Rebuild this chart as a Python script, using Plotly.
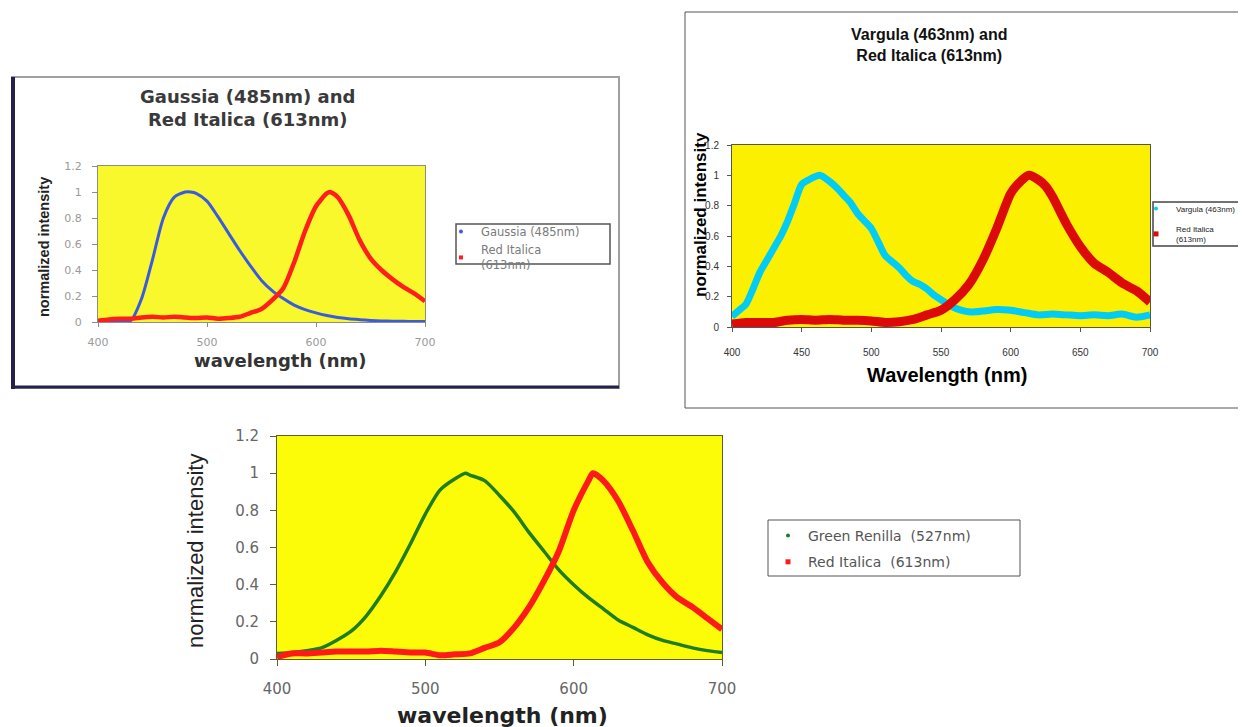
import plotly.graph_objects as go

# page offset of the figure inside the browser body (default 8px body margin)
OX, OY = 8, 8
W, H = 1246 - OX, 727 - OY

# ---------------- data ----------------
# Chart 1: Gaussia + Red Italica
gaussia_wl = [400, 410, 420, 430, 440, 450, 460, 470, 480, 485, 490, 500, 510, 520, 530, 540,
              550, 560, 570, 580, 590, 600, 610, 620, 630, 640, 650, 660, 670, 680, 690, 700]
gaussia_int = [0.0, 0.0, 0.005, 0.01, 0.18, 0.48, 0.80, 0.96, 1.0, 1.0, 0.99, 0.93, 0.81, 0.68, 0.55, 0.43,
               0.32, 0.24, 0.18, 0.13, 0.095, 0.07, 0.05, 0.035, 0.025, 0.018, 0.012, 0.008, 0.006, 0.005, 0.004, 0.003]

red1_wl = [400, 410, 420, 430, 440, 450, 460, 470, 480, 490, 500, 510, 520, 530, 540, 550,
           560, 570, 580, 590, 600, 610, 613, 620, 630, 640, 650, 660, 670, 680, 690, 700]
red1_int = [0.01, 0.02, 0.025, 0.025, 0.035, 0.04, 0.035, 0.04, 0.035, 0.03, 0.035, 0.025, 0.03, 0.04, 0.07, 0.10,
            0.17, 0.26, 0.46, 0.70, 0.89, 0.99, 1.0, 0.96, 0.82, 0.63, 0.49, 0.40, 0.33, 0.27, 0.22, 0.16]

# Chart 2: Vargula + Red Italica
vargula_wl = [400, 405, 410, 415, 420, 425, 430, 435, 440, 445, 450, 455, 463,
              470, 475, 480, 485, 490, 495, 500, 505, 510, 515, 520, 525, 530, 535, 540, 545, 550,
              555, 560, 565, 570, 575, 580, 590, 600, 610, 620, 630, 640, 650, 660, 670, 680, 690, 700]
vargula_int = [0.07, 0.11, 0.15, 0.25, 0.36, 0.44, 0.52, 0.60, 0.70, 0.82, 0.94, 0.97, 1.0,
               0.96, 0.92, 0.87, 0.82, 0.75, 0.70, 0.65, 0.56, 0.47, 0.43, 0.39, 0.34, 0.30, 0.28, 0.25, 0.21, 0.18,
               0.15, 0.125, 0.11, 0.10, 0.10, 0.105, 0.115, 0.11, 0.095, 0.08, 0.085, 0.08, 0.075, 0.08, 0.075, 0.085, 0.065, 0.08]

red2_wl = [400, 410, 420, 430, 440, 450, 460, 470, 480, 490, 500, 510, 520, 530, 540, 550, 560,
           570, 580, 590, 600, 605, 613, 620, 625, 630, 640, 650, 660, 670, 680, 690, 700]
red2_int = [0.02, 0.03, 0.03, 0.03, 0.045, 0.05, 0.045, 0.05, 0.045, 0.045, 0.04, 0.03, 0.035, 0.05, 0.08, 0.11, 0.18,
            0.28, 0.44, 0.65, 0.88, 0.94, 1.0, 0.97, 0.93, 0.86, 0.68, 0.53, 0.42, 0.36, 0.29, 0.24, 0.165]

# Chart 3: Green Renilla + Red Italica
renilla_wl = [400, 410, 420, 430, 440, 450, 460, 470, 480, 490, 500, 510, 520, 527, 530, 540,
              550, 560, 570, 580, 590, 600, 610, 620, 630, 640, 650, 660, 670, 680, 690, 700]
renilla_int = [0.03, 0.035, 0.045, 0.06, 0.10, 0.15, 0.23, 0.34, 0.47, 0.62, 0.78, 0.91, 0.97, 1.0, 0.99, 0.96,
               0.88, 0.79, 0.68, 0.58, 0.48, 0.40, 0.33, 0.27, 0.21, 0.17, 0.13, 0.10, 0.08, 0.06, 0.045, 0.035]

red3_wl = [400, 410, 420, 430, 440, 450, 460, 470, 480, 490, 500, 510, 520, 530, 540, 550,
           560, 570, 580, 590, 600, 610, 613, 620, 630, 640, 650, 660, 670, 680, 690, 700]
red3_int = [0.01, 0.03, 0.03, 0.035, 0.04, 0.04, 0.04, 0.045, 0.04, 0.035, 0.035, 0.02, 0.025, 0.03, 0.06, 0.09,
            0.17, 0.28, 0.42, 0.58, 0.80, 0.96, 1.0, 0.96, 0.85, 0.69, 0.52, 0.41, 0.33, 0.28, 0.22, 0.16]

x_ticks_100 = [400, 500, 600, 700]
x_ticks_50 = [400, 450, 500, 550, 600, 650, 700]
y_ticks = [0, 0.2, 0.4, 0.6, 0.8, 1.0, 1.2]

titles = ["Gaussia (485nm) and<br>Red Italica (613nm)",
          "Vargula (463nm) and<br>Red Italica (613nm)"]
names1 = ["Gaussia (485nm)", "Red Italica<br>(613nm)"]
names2 = ["Vargula (463nm)", "Red Italica<br>(613nm)"]
names3 = ["Green Renilla  (527nm)", "Red Italica  (613nm)"]

# ---------------- helpers ----------------
def px(x):
    return (x - OX) / W


def py(y):
    return 1 - (y - OY) / H


ARIAL = "Liberation Sans, Arial, sans-serif"
WIDE = "DejaVu Sans, Verdana, sans-serif"

fig = go.Figure()


def add_series(xs, ys, color, width, xa, ya):
    fig.add_trace(go.Scatter(x=xs, y=ys, mode="lines", xaxis=xa, yaxis=ya,
                             line=dict(color=color, width=width, shape="spline", smoothing=0.7),
                             showlegend=False, hoverinfo="skip"))


def add_legend_entry(name, color, symbol, size, legend, group, xa, ya):
    fig.add_trace(go.Scatter(x=[None], y=[None], mode="markers", xaxis=xa, yaxis=ya,
                             marker=dict(color=color, symbol=symbol, size=size),
                             name=name, legend=legend, legendgroup=group, showlegend=True))


# chart 1
add_series(gaussia_wl, gaussia_int, "#3A5BE0", 3, "x", "y")
add_series(red1_wl, red1_int, "#FF1E1E", 4.5, "x", "y")
add_legend_entry(names1[0], "#3A5BE0", "circle", 4, "legend", "a", "x", "y")
add_legend_entry(names1[1], "#FF1E1E", "square", 4, "legend", "b", "x", "y")

# chart 2
add_series(vargula_wl, vargula_int, "#00CCF5", 7, "x2", "y2")
add_series(red2_wl, red2_int, "#DD0A0A", 9, "x2", "y2")
add_legend_entry(names2[0], "#00CCF5", "circle", 4, "legend2", "c", "x2", "y2")
add_legend_entry(names2[1], "#DD0A0A", "square", 5, "legend2", "d", "x2", "y2")

# chart 3
add_series(renilla_wl, renilla_int, "#1E7D1E", 3.5, "x3", "y3")
add_series(red3_wl, red3_int, "#FF1A1A", 6, "x3", "y3")
add_legend_entry(names3[0], "#1E7D1E", "circle", 4, "legend3", "e", "x3", "y3")
add_legend_entry(names3[1], "#FF1A1A", "square", 5, "legend3", "f", "x3", "y3")


def xaxis(domain, tickvals, font, linecolor, ticklen, standoff, anchor):
    return dict(domain=domain, range=[400, 700], tickvals=tickvals, ticks="outside", ticklen=ticklen,
                tickcolor=linecolor, showline=True, linecolor=linecolor, mirror=True, showgrid=False,
                zeroline=False, tickfont=font, ticklabelstandoff=standoff, anchor=anchor, fixedrange=True,
                automargin=False)


def yaxis(domain, font, linecolor, ticklen, standoff, anchor):
    return dict(domain=domain, range=[0, 1.2], tickvals=y_ticks, ticks="outside", ticklen=ticklen,
                tickcolor=linecolor, showline=True, linecolor=linecolor, mirror=True, showgrid=False,
                zeroline=False, tickfont=font, ticklabelstandoff=standoff, anchor=anchor, fixedrange=True,
                automargin=False)


fig.update_layout(
    width=W, height=H, margin=dict(l=0, r=0, t=0, b=0, autoexpand=False),
    paper_bgcolor="white", plot_bgcolor="rgba(0,0,0,0)",
    xaxis=xaxis([px(98), px(425)], x_ticks_100, dict(family=WIDE, size=11, color="#9A9A9A"), "#8C8C8C", 4, 6, "y"),
    yaxis=yaxis([py(322), py(166)], dict(family=WIDE, size=11, color="#9A9A9A"), "#8C8C8C", 5, 8, "x"),
    xaxis2=xaxis([px(732), px(1150)], x_ticks_50, dict(family=ARIAL, size=10, color="#333333"), "#555555", 4, 12, "y2"),
    yaxis2=yaxis([py(327), py(145)], dict(family=ARIAL, size=10, color="#333333"), "#555555", 4, 6, "x2"),
    xaxis3=xaxis([px(277), px(722)], x_ticks_100, dict(family=WIDE, size=15, color="#666666"), "#5E5E30", 6, 10, "y3"),
    yaxis3=yaxis([py(659), py(436)], dict(family=WIDE, size=15, color="#666666"), "#5E5E30", 6, 8, "x3"),
    legend=dict(x=px(456), y=py(217), xanchor="left", yanchor="top", bgcolor="rgba(0,0,0,0)",
                font=dict(family=WIDE, size=11.5, color="#7A7A7A"), indentation=-15,
                traceorder="grouped", tracegroupgap=0, itemclick=False),
    legend2=dict(x=px(1151), y=py(194), xanchor="left", yanchor="top", bgcolor="rgba(0,0,0,0)",
                 font=dict(family=ARIAL, size=8, color="#222222"), indentation=-15,
                 traceorder="grouped", tracegroupgap=4, itemclick=False),
    legend3=dict(x=px(770), y=py(520), xanchor="left", yanchor="top", bgcolor="rgba(0,0,0,0)",
                 font=dict(family=WIDE, size=14, color="#555555"), indentation=-2,
                 traceorder="grouped", tracegroupgap=5, itemclick=False),
)

shapes = []
# yellow plot backgrounds
for xa, ya, col in [("x", "y", "#F8F82C"), ("x2", "y2", "#FBF000"), ("x3", "y3", "#FCFC08")]:
    shapes.append(dict(type="rect", xref=xa + " domain", yref=ya + " domain", x0=0, x1=1, y0=0, y1=1,
                       fillcolor=col, line=dict(width=0), layer="below"))
# chart 1 frame
shapes.append(dict(type="rect", xref="paper", yref="paper", x0=px(12), x1=px(619), y0=py(388), y1=py(77),
                   line=dict(color="#A0A0A0", width=2), layer="below"))
shapes.append(dict(type="line", xref="paper", yref="paper", x0=px(13), x1=px(13), y0=py(389), y1=py(77),
                   line=dict(color="#22224A", width=4), layer="below"))
shapes.append(dict(type="line", xref="paper", yref="paper", x0=px(11), x1=px(619), y0=py(387), y1=py(387),
                   line=dict(color="#22224A", width=3), layer="below"))
# chart 2 frame
shapes.append(dict(type="rect", xref="paper", yref="paper", x0=px(685), x1=px(1252), y0=py(408), y1=py(12),
                   line=dict(color="#555555", width=1), layer="below"))
# legend boxes
shapes.append(dict(type="rect", xref="paper", yref="paper", x0=px(456), x1=px(610), y0=py(264), y1=py(224),
                   line=dict(color="#555555", width=1.5), layer="below"))
shapes.append(dict(type="rect", xref="paper", yref="paper", x0=px(1153), x1=px(1244), y0=py(246), y1=py(202),
                   line=dict(color="#444444", width=1.5), layer="below"))
shapes.append(dict(type="rect", xref="paper", yref="paper", x0=px(768), x1=px(1020), y0=py(576), y1=py(520),
                   line=dict(color="#555555", width=1), layer="below"))
fig.update_layout(shapes=shapes)

ann = []


def add_text(text, x, y, family, size, color, angle=0):
    ann.append(dict(text=text, x=px(x), y=py(y), xref="paper", yref="paper", showarrow=False,
                    xanchor="center", yanchor="middle", textangle=angle,
                    font=dict(family=family, size=size, color=color)))


add_text("<b>" + titles[0] + "</b>", 247, 108, WIDE, 18, "#3A3A3A")
add_text("<b>normalized intensity</b>", 44, 247, ARIAL, 14.5, "#222222", -90)
add_text("<b>wavelength (nm)</b>", 280, 361, WIDE, 18, "#333333")

add_text("<b>" + titles[1] + "</b>", 929, 45, ARIAL, 16, "#111111")
add_text("<b>normalized intensity</b>", 701, 215, ARIAL, 17, "#000000", -90)
add_text("<b>Wavelength (nm)</b>", 947, 375, ARIAL, 20, "#000000")

add_text("normalized intensity", 195, 551, ARIAL, 22, "#222222", -90)
add_text("<b>wavelength (nm)</b>", 502, 715, WIDE, 22, "#222222")
fig.update_layout(annotations=ann)

fig.write_html("out.html")
